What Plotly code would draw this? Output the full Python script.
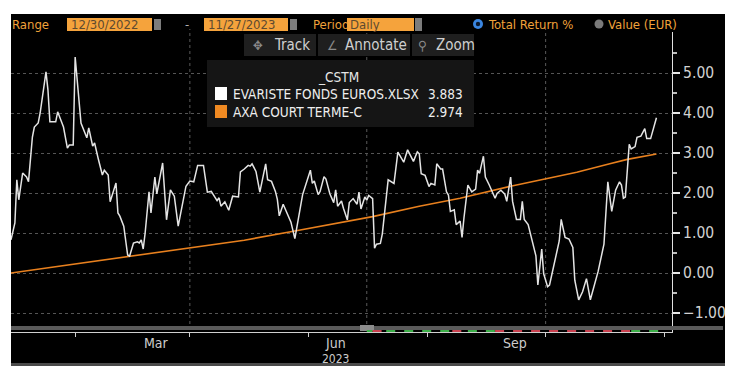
import plotly.graph_objects as go

# ---------------- data ----------------
evariste_dates = [
    "2022-12-30", "2023-01-01", "2023-01-02", "2023-01-03", "2023-01-05", "2023-01-07", "2023-01-08",
    "2023-01-10", "2023-01-11", "2023-01-13", "2023-01-14", "2023-01-17", "2023-01-18", "2023-01-19",
    "2023-01-22", "2023-01-23", "2023-01-26", "2023-01-28", "2023-01-29", "2023-01-31", "2023-02-01",
    "2023-02-03", "2023-02-04", "2023-02-07", "2023-02-08", "2023-02-10", "2023-02-11", "2023-02-13",
    "2023-02-15", "2023-02-16", "2023-02-18", "2023-02-19", "2023-02-22", "2023-02-23", "2023-02-24",
    "2023-02-26", "2023-02-28", "2023-03-01", "2023-03-03", "2023-03-05", "2023-03-06", "2023-03-07",
    "2023-03-08", "2023-03-09", "2023-03-11", "2023-03-12", "2023-03-14", "2023-03-15", "2023-03-16",
    "2023-03-18", "2023-03-20", "2023-03-22", "2023-03-24", "2023-03-26", "2023-03-28", "2023-03-30",
    "2023-04-01", "2023-04-03", "2023-04-05", "2023-04-08", "2023-04-10", "2023-04-12", "2023-04-15",
    "2023-04-16", "2023-04-17", "2023-04-19", "2023-04-21", "2023-04-23", "2023-04-26", "2023-04-27",
    "2023-04-29", "2023-05-01", "2023-05-02", "2023-05-03", "2023-05-05", "2023-05-07", "2023-05-10",
    "2023-05-11", "2023-05-13", "2023-05-15", "2023-05-16", "2023-05-17", "2023-05-19", "2023-05-21",
    "2023-05-23", "2023-05-25", "2023-05-27", "2023-05-29", "2023-06-02", "2023-06-03", "2023-06-04",
    "2023-06-06", "2023-06-07", "2023-06-09", "2023-06-10", "2023-06-12", "2023-06-14", "2023-06-15",
    "2023-06-16", "2023-06-18", "2023-06-19", "2023-06-21", "2023-06-22", "2023-06-24", "2023-06-26",
    "2023-06-27", "2023-06-28", "2023-06-30", "2023-07-01", "2023-07-02", "2023-07-04", "2023-07-05",
    "2023-07-06", "2023-07-08", "2023-07-09", "2023-07-11", "2023-07-12", "2023-07-15", "2023-07-17",
    "2023-07-20", "2023-07-22", "2023-07-25", "2023-07-27", "2023-07-28", "2023-07-29", "2023-07-31",
    "2023-08-02", "2023-08-03", "2023-08-05", "2023-08-06", "2023-08-08", "2023-08-09", "2023-08-11",
    "2023-08-12", "2023-08-13", "2023-08-15", "2023-08-16", "2023-08-18", "2023-08-19", "2023-08-20",
    "2023-08-22", "2023-08-24", "2023-08-26", "2023-08-27", "2023-08-28", "2023-08-30", "2023-08-31",
    "2023-09-02", "2023-09-05", "2023-09-06", "2023-09-08", "2023-09-10", "2023-09-11", "2023-09-13",
    "2023-09-14", "2023-09-16", "2023-09-18", "2023-09-19", "2023-09-20", "2023-09-22", "2023-09-24",
    "2023-09-26", "2023-09-27", "2023-09-29", "2023-09-30", "2023-10-02", "2023-10-03", "2023-10-05",
    "2023-10-08", "2023-10-09", "2023-10-11", "2023-10-13", "2023-10-15", "2023-10-16", "2023-10-18",
    "2023-10-20", "2023-10-22", "2023-10-24", "2023-10-26", "2023-10-28", "2023-10-31", "2023-11-01",
    "2023-11-02", "2023-11-04", "2023-11-06", "2023-11-08", "2023-11-09", "2023-11-10", "2023-11-11",
    "2023-11-13", "2023-11-14", "2023-11-16", "2023-11-17", "2023-11-19", "2023-11-21", "2023-11-22",
    "2023-11-24", "2023-11-27",
]
evariste_values = [
    0.83, 1.25, 2.33, 1.83, 2.50, 2.40, 2.28,
    3.40, 3.65, 3.75, 4.00, 5.03, 4.58, 3.78,
    3.78, 4.03, 3.65, 3.12, 3.20, 3.20, 5.40,
    4.28, 3.75, 3.38, 3.63, 3.17, 3.25, 2.83,
    2.45, 2.57, 2.45, 1.78, 2.25, 1.50, 1.42,
    1.17, 0.45, 0.42, 0.75, 0.78, 0.75, 0.83,
    0.60, 1.00, 2.03, 1.50, 2.40, 1.98, 2.25,
    2.75, 1.33, 2.08, 1.92, 1.17, 1.67, 2.17,
    2.30, 2.28, 2.69, 2.69, 2.02, 2.04, 1.81,
    1.88, 1.67, 1.78, 1.57, 1.92, 1.90, 2.53,
    2.60, 2.69, 2.67, 2.73, 2.54, 2.02, 2.73,
    2.33, 2.29, 2.04, 1.84, 1.43, 1.72, 1.51,
    1.27, 0.86, 1.39, 1.96, 2.57, 2.24, 2.30,
    1.96, 2.04, 2.41, 2.35, 1.98, 1.76, 2.08,
    1.67, 1.80, 1.62, 1.33, 1.76, 1.86, 1.72,
    2.02, 1.60, 1.90, 1.82, 1.94, 1.86, 0.62,
    0.72, 0.74, 0.98, 2.00, 2.33, 2.24, 3.02,
    2.77, 3.08, 2.79, 3.03, 2.98, 2.48, 2.44,
    2.16, 2.24, 2.20, 2.73, 2.60, 2.60, 2.03,
    1.95, 1.54, 1.58, 1.21, 1.30, 0.89, 1.38,
    2.20, 2.03, 2.10, 2.57, 2.49, 2.92, 2.40,
    2.20, 1.87, 1.99, 2.07, 1.97, 1.79, 2.40,
    1.79, 1.34, 1.34, 1.79, 1.34, 1.21, 0.80,
    0.43, -0.30, 0.60, -0.02, -0.34, -0.30, 0.15,
    0.80, 1.34, 0.89, 0.85, 0.64, -0.18, -0.67,
    -0.47, -0.14, -0.67, -0.34, 0.04, 0.72, 1.38,
    2.28, 1.54, 2.07, 2.28, 2.20, 1.87, 1.90,
    3.22, 3.10, 3.16, 3.39, 3.42, 3.61, 3.36,
    3.36, 3.883,
]

axa_dates = ["2022-12-30", "2023-01-30", "2023-02-28", "2023-04-01", "2023-04-29", "2023-05-25",
             "2023-07-04", "2023-07-28", "2023-08-18", "2023-09-13", "2023-09-30", "2023-10-17",
             "2023-11-03", "2023-11-12", "2023-11-27"]
axa_values = [0.00, 0.21, 0.41, 0.62, 0.82, 1.05,
              1.41, 1.67, 1.87, 2.17, 2.34, 2.52,
              2.73, 2.84, 2.974]

series_names = ["EVARISTE FONDS EUROS.XLSX", "AXA COURT TERME-C"]
series_last = ["3.883", "2.974"]
y_tick_values = [-1, 0, 1, 2, 3, 4, 5]
y_minor_values = [-0.5, 0.5, 1.5, 2.5, 3.5, 4.5, 5.5]
x_tick_dates = ["2023-03-15", "2023-06-15", "2023-09-15"]
x_tick_labels = ["Mar", "Jun", "Sep"]
year_label = "2023"
x_range = ["2022-12-30", "2023-12-05"]
quarter_lines = ["2023-04-01", "2023-07-01", "2023-10-01"]
strip_starts = ["2023-07-01", "2023-07-04", "2023-07-11", "2023-08-14", "2023-08-22", "2023-09-05", "2023-11-14"]
strip_ends = ["2023-07-04", "2023-07-11", "2023-08-14", "2023-08-22", "2023-09-05", "2023-11-14", "2023-11-28"]
strip_colors = ["#3cae48", "#c8404e", "#3cae48", "#c8404e", "#3cae48", "#c8404e", "#3cae48"]

# ---------------- layout helpers (page pixel coordinates) ----------------
BODY = 8                      # default page margin around the plot div
FIG_W, FIG_H = 717, 358
L, R, T, B = 11, 672, 32, 332  # plot area in page pixels
FONT = "DejaVu Sans Condensed, Liberation Sans Narrow, DejaVu Sans, sans-serif"
ORANGE_TXT = "#f0a23a"


def px(x):
    return (x - L) / (R - L)


def py(y):
    return (B - y) / (B - T)


def rect(x0, y0, x1, y1, color, layer="above"):
    return dict(type="rect", xref="paper", yref="paper", x0=px(x0), x1=px(x1), y0=py(y1), y1=py(y0),
                fillcolor=color, line=dict(width=0), layer=layer)


def circ(cx, cy, r, color):
    return dict(type="circle", xref="paper", yref="paper", x0=px(cx - r), x1=px(cx + r),
                y0=py(cy + r), y1=py(cy - r), fillcolor=color, line=dict(width=0), layer="above")


def txt(x, y, s, color, size, xanchor="left"):
    return dict(x=px(x), y=py(y), xref="paper", yref="paper", text=s, showarrow=False,
                font=dict(family=FONT, size=size, color=color), xanchor=xanchor, yanchor="middle",
                borderpad=0)


def date_label(d, y, s, size):
    return dict(x=d, y=py(y), xref="x", yref="paper", text=s, showarrow=False,
                font=dict(family=FONT, size=size, color="#cccccc"), xanchor="center",
                yanchor="middle", borderpad=0)


fig = go.Figure()
fig.add_trace(go.Scatter(x=axa_dates, y=axa_values, mode="lines", name=series_names[1],
                         line=dict(color="#e8801e", width=1.6), hoverinfo="skip"))
fig.add_trace(go.Scatter(x=evariste_dates, y=evariste_values, mode="lines", name=series_names[0],
                         line=dict(color="#e4e4e4", width=1.5), hoverinfo="skip"))

shapes = [
    rect(11, 14, 725, 366, "#000000", layer="below"),
    rect(11, 363, 725, 367, "#4a4a4a"),
    rect(11, 326, 723, 330, "#5a5a5a"),
    rect(360, 325, 374, 331, "#8c8c8c"),
    # top controls
    rect(67, 18, 152, 31, "#f5a33c"),
    rect(154, 19, 161, 30, "#7c7c7c"),
    rect(204, 18, 288, 31, "#f5a33c"),
    rect(290, 19, 297, 30, "#7c7c7c"),
    rect(347, 18, 414, 31, "#f5a33c"),
    rect(415, 18, 422, 31, "#7c7c7c"),
    circ(478, 24, 5, "#3a86e0"),
    circ(478, 24, 2.2, "#0b1a30"),
    circ(599, 24, 4.5, "#7a7a7a"),
    # toolbar
    rect(244, 34, 316, 56, "#1f1f1f"),
    rect(318, 34, 410, 56, "#1f1f1f"),
    rect(412, 34, 474, 56, "#1f1f1f"),
    # legend box
    rect(207, 60, 474, 127, "#151515"),
    rect(215, 87, 227, 100, "#ffffff"),
    rect(215, 105, 227, 118, "#f08a22"),
]
for d in quarter_lines:
    shapes.append(dict(type="line", xref="x", yref="paper", x0=d, x1=d, y0=py(330), y1=py(29),
                       line=dict(color="#5a5a5a", width=1, dash="dot"), layer="below"))
for s, e, c in zip(strip_starts, strip_ends, strip_colors):
    shapes.append(dict(type="line", xref="x", yref="paper", x0=s, x1=e, y0=py(331), y1=py(331),
                       line=dict(color=c, width=2, dash="dash"), layer="above"))

annotations = [
    txt(11, 24, "Range", ORANGE_TXT, 13),
    txt(70, 24.5, "12/30/2022", "#5e4a30", 13),
    txt(187, 24, "-", "#b0b0b0", 13, "center"),
    txt(207, 24.5, "11/27/2023", "#5e4a30", 13),
    txt(312, 24, "Period", ORANGE_TXT, 13),
    txt(349, 24.5, "Daily", "#5e4a30", 13),
    txt(487, 24, "Total Return %", ORANGE_TXT, 13),
    txt(607, 24, "Value (EUR)", ORANGE_TXT, 13),
    txt(252, 45, "✥", "#8a8a8a", 13),
    txt(273, 45, "Track", "#cfcfcf", 15),
    txt(326, 45, "∠", "#8a8a8a", 13),
    txt(344, 45, "Annotate", "#cfcfcf", 15),
    txt(417, 45, "⚲", "#8a8a8a", 13),
    txt(435, 45, "Zoom", "#cfcfcf", 15),
    txt(338, 77, "_CSTM", "#e6e6e6", 13.5, "center"),
    txt(232, 94, series_names[0], "#eeeeee", 13.5),
    txt(464, 94, series_last[0], "#eeeeee", 13.5, "right"),
    txt(232, 112, series_names[1], "#eeeeee", 13.5),
    txt(464, 112, series_last[1], "#eeeeee", 13.5, "right"),
]
for d, s in zip(x_tick_dates, x_tick_labels):
    annotations.append(date_label(d, 342.5, s, 14))
annotations.append(date_label(x_tick_dates[1], 358.5, year_label, 12))

fig.update_layout(
    width=FIG_W, height=FIG_H,
    margin=dict(l=L - BODY, r=BODY + FIG_W - R, t=T - BODY, b=BODY + FIG_H - B, pad=0,
                autoexpand=False),
    paper_bgcolor="#ffffff", plot_bgcolor="#000000",
    showlegend=False,
    shapes=shapes, annotations=annotations,
    font=dict(family=FONT),
    xaxis=dict(
        type="date", range=x_range, showgrid=False, zeroline=False, automargin=False,
        showline=True, linecolor="#cfcfcf", linewidth=1,
        showticklabels=False, ticks="",
        minor=dict(dtick="M1", tick0="2023-01-01", ticks="outside", ticklen=4,
                   tickcolor="#cfcfcf", showgrid=False),
        fixedrange=True,
    ),
    yaxis=dict(
        side="right", range=[-1.475, 6.025], zeroline=False, automargin=False,
        showgrid=True, gridcolor="#555555", griddash="dot", gridwidth=1,
        showline=True, linecolor="#e0e0e0", linewidth=1,
        tickmode="array", tickvals=y_tick_values, tickformat=".2f",
        ticks="outside", ticklen=7, tickwidth=2, tickcolor="#e6e6e6",
        tickfont=dict(family=FONT, size=15.5, color="#d2d2d2"),
        minor=dict(tickvals=y_minor_values, ticks="outside", ticklen=4, tickcolor="#bdbdbd",
                   showgrid=False),
        fixedrange=True,
    ),
)

fig.write_html("out.html", config={"displayModeBar": False})
